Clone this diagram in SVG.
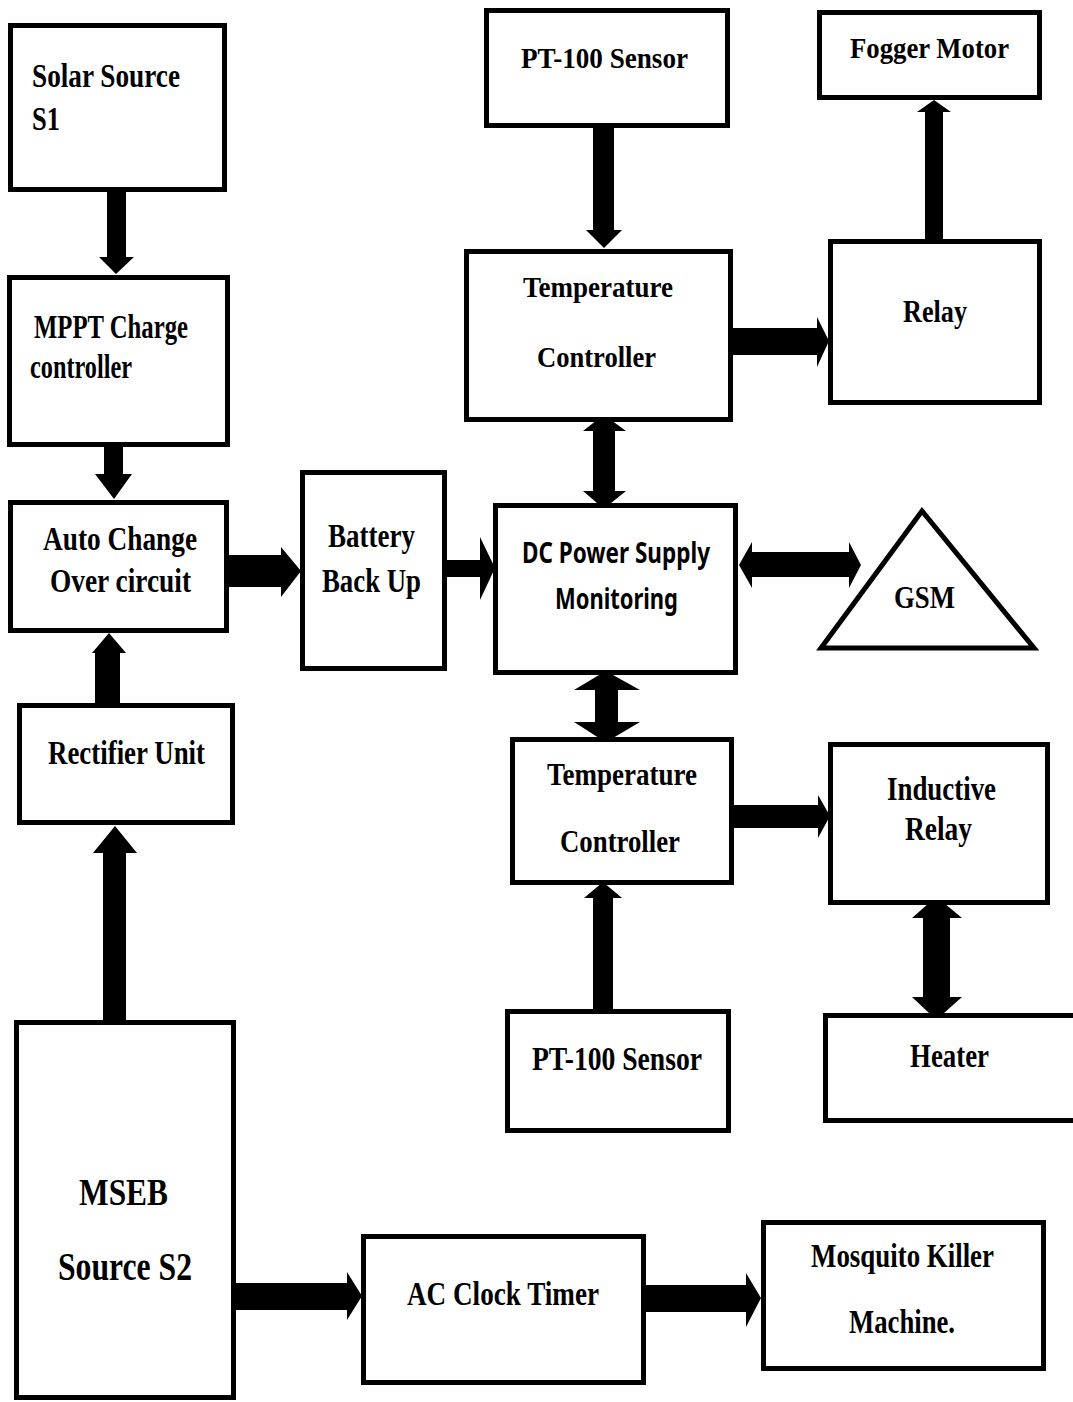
<svg xmlns="http://www.w3.org/2000/svg" width="1073" height="1402" viewBox="0 0 1073 1402">
<style>
.box{fill:#fff;stroke:#000;stroke-width:5}
.t{font-family:"Liberation Serif","Times New Roman",serif;font-weight:bold;fill:#000}
.s{font-family:"Noto Sans","Open Sans",sans-serif;font-weight:bold;fill:#000}
.ar{fill:#000}
</style>
<rect width="1073" height="1402" fill="#fff"/>
<g id="connectors">
<polygon class="ar" points="107,190 126,190 126,257 134,257 116,274 99,257 107,257"/>
<polygon class="ar" points="104,445 123,445 123,474 132,474 114,499 95,474 104,474"/>
<polygon class="ar" points="95,705 95,653 92,653 109,633 126,653 120,653 120,705"/>
<polygon class="ar" points="103,1022 103,853 93,853 115,826 137,853 126,853 126,1022"/>
<polygon class="ar" points="229,555 281,555 281,547 301,571 281,597 281,587 229,587"/>
<polygon class="ar" points="446,560 480,560 480,537 495,568 480,600 480,577 446,577"/>
<polygon class="ar" points="593,128 614,128 614,230 622,230 604,248 586,230 593,230"/>
<polygon class="ar" points="733,328 817,328 817,317 829,341 817,367 817,355 733,355"/>
<polygon class="ar" points="925,240 925,112 917,112 934,100 951,112 943,112 943,240"/>
<polygon class="ar" points="597,420 611,420 626,431 615,431 615,491 626,491 611,503 597,503 583,491 593,491 593,431 583,431"/>
<polygon class="ar" points="739,565 752,542 752,552 849,552 849,542 861,565 849,588 849,577 752,577 752,588"/>
<polygon class="ar" points="599,675 613,675 640,690 618,690 618,722 640,722 613,738 599,738 574,722 595,722 595,690 574,690"/>
<polygon class="ar" points="733,805 818,805 818,795 830,816 818,838 818,828 733,828"/>
<polygon class="ar" points="593,1010 593,898 584,898 603,882 622,898 613,898 613,1010"/>
<polygon class="ar" points="929,903 944,903 962,918 950,918 950,997 962,997 944,1013 929,1013 912,997 923,997 923,918 912,918"/>
<polygon class="ar" points="235,1283 347,1283 347,1272 362,1296 347,1320 347,1310 235,1310"/>
<polygon class="ar" points="645,1285 746,1285 746,1273 761,1298 746,1327 746,1312 645,1312"/>
</g>
<g id="solar"><rect class="box" x="10.5" y="25.5" width="214" height="164"/>
<text class="t" x="32" y="87" font-size="33" textLength="148" lengthAdjust="spacingAndGlyphs">Solar Source</text>
<text class="t" x="32" y="130" font-size="33" textLength="28" lengthAdjust="spacingAndGlyphs">S1</text></g>
<g id="mppt"><rect class="box" x="9.5" y="277.5" width="218" height="167"/>
<text class="t" x="34" y="338" font-size="33" textLength="154" lengthAdjust="spacingAndGlyphs">MPPT Charge</text>
<text class="t" x="30" y="378" font-size="33" textLength="102" lengthAdjust="spacingAndGlyphs">controller</text></g>
<g id="auto"><rect class="box" x="10.5" y="502.5" width="216" height="128"/>
<text class="t" x="43" y="550" font-size="33" textLength="154" lengthAdjust="spacingAndGlyphs">Auto Change</text>
<text class="t" x="50" y="592" font-size="33" textLength="141" lengthAdjust="spacingAndGlyphs">Over circuit</text></g>
<g id="battery"><rect class="box" x="302.5" y="472.5" width="142" height="196"/>
<text class="t" x="328" y="547" font-size="33" textLength="87" lengthAdjust="spacingAndGlyphs">Battery</text>
<text class="t" x="322" y="592" font-size="33" textLength="99" lengthAdjust="spacingAndGlyphs">Back Up</text></g>
<g id="rectifier"><rect class="box" x="19.5" y="705.5" width="213" height="117"/>
<text class="t" x="48" y="764" font-size="33" textLength="157" lengthAdjust="spacingAndGlyphs">Rectifier Unit</text></g>
<g id="mseb"><rect class="box" x="16.5" y="1022.5" width="217" height="375"/>
<text class="t" x="79" y="1205" font-size="38" textLength="89" lengthAdjust="spacingAndGlyphs">MSEB</text>
<text class="t" x="58" y="1280" font-size="40" textLength="134" lengthAdjust="spacingAndGlyphs">Source S2</text></g>
<g id="acclock"><rect class="box" x="363.5" y="1236.5" width="280" height="146"/>
<text class="t" x="407" y="1305" font-size="33" textLength="192" lengthAdjust="spacingAndGlyphs">AC Clock Timer</text></g>
<g id="mosquito"><rect class="box" x="763.5" y="1222.5" width="280" height="146"/>
<text class="t" x="811" y="1267" font-size="33" textLength="183" lengthAdjust="spacingAndGlyphs">Mosquito Killer</text>
<text class="t" x="849" y="1333" font-size="33" textLength="106" lengthAdjust="spacingAndGlyphs">Machine.</text></g>
<g id="pt100top"><rect class="box" x="486.5" y="10.5" width="241" height="115"/>
<text class="t" x="521" y="68" font-size="30" textLength="167" lengthAdjust="spacingAndGlyphs">PT-100 Sensor</text></g>
<g id="fogger"><rect class="box" x="819.5" y="12.5" width="220" height="85"/>
<text class="t" x="850" y="58" font-size="30" textLength="159" lengthAdjust="spacingAndGlyphs">Fogger Motor</text></g>
<g id="tc1"><rect class="box" x="466.5" y="251.5" width="264" height="168"/>
<text class="t" x="523" y="297" font-size="30" textLength="150" lengthAdjust="spacingAndGlyphs">Temperature</text>
<text class="t" x="537" y="367" font-size="30" textLength="119" lengthAdjust="spacingAndGlyphs">Controller</text></g>
<g id="relay"><rect class="box" x="830.5" y="241.5" width="209" height="161"/>
<text class="t" x="903" y="322" font-size="32" textLength="64" lengthAdjust="spacingAndGlyphs">Relay</text></g>
<g id="dc"><rect class="box" x="495.5" y="505.5" width="240" height="167"/>
<text class="s" x="522" y="563" font-size="28" textLength="188" lengthAdjust="spacingAndGlyphs">DC Power Supply</text>
<text class="s" x="555" y="609" font-size="28" textLength="123" lengthAdjust="spacingAndGlyphs">Monitoring</text></g>
<g id="gsm"><polygon points="922,511 821,648 1034,648" fill="#fff" stroke="#000" stroke-width="5"/>
<text class="t" x="894" y="608" font-size="32" textLength="61" lengthAdjust="spacingAndGlyphs">GSM</text></g>
<g id="tc2"><rect class="box" x="512.5" y="739.5" width="219" height="143"/>
<text class="t" x="547" y="785" font-size="32" textLength="150" lengthAdjust="spacingAndGlyphs">Temperature</text>
<text class="t" x="560" y="852" font-size="32" textLength="120" lengthAdjust="spacingAndGlyphs">Controller</text></g>
<g id="inductive"><rect class="box" x="830.5" y="744.5" width="217" height="158"/>
<text class="t" x="887" y="800" font-size="33" textLength="109" lengthAdjust="spacingAndGlyphs">Inductive</text>
<text class="t" x="905" y="840" font-size="33" textLength="67" lengthAdjust="spacingAndGlyphs">Relay</text></g>
<g id="heater"><rect class="box" x="825.5" y="1015.5" width="252" height="105"/>
<text class="t" x="910" y="1067" font-size="33" textLength="79" lengthAdjust="spacingAndGlyphs">Heater</text></g>
<g id="pt100bottom"><rect class="box" x="507.5" y="1011.5" width="221" height="119"/>
<text class="t" x="532" y="1070" font-size="33" textLength="170" lengthAdjust="spacingAndGlyphs">PT-100 Sensor</text></g>
</svg>
